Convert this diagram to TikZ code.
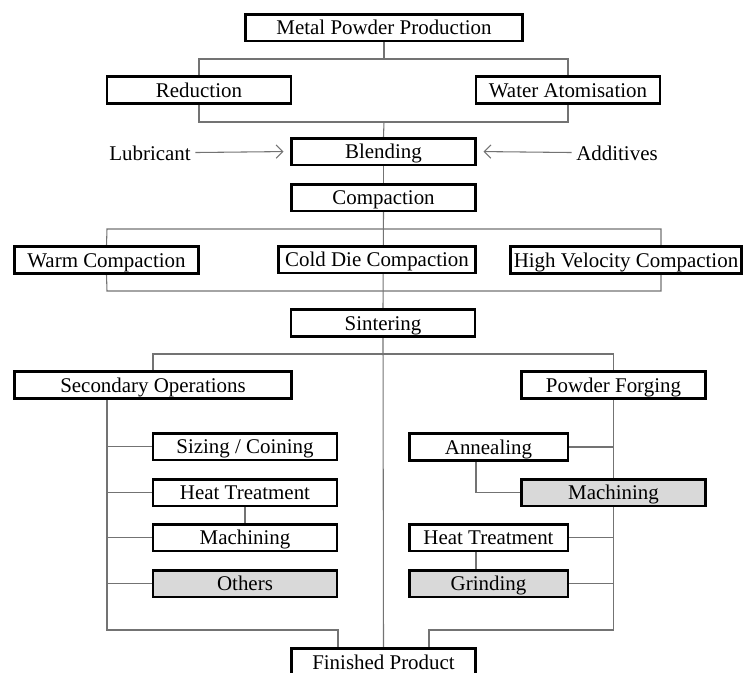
\documentclass[tikz,border=0pt]{standalone}
\usepackage{fontspec}
\setmainfont{Liberation Serif}
\usetikzlibrary{arrows.meta,calc,backgrounds}

\begin{document}
\begin{tikzpicture}[
  x=0.75pt, y=-0.75pt,
  box/.style={draw, line width=2pt, fill=white, minimum height=20pt, inner sep=0pt,
              text height=11pt, text depth=0pt,
              minimum width=138pt, font=\fontsize{15.7}{18}\selectfont},
  greybox/.style={box, fill=gray!30},
  link/.style={draw=black!55, line width=0.8pt},
  arr/.style={link, -{Straight Barb[length=5pt, width=10pt]}, shorten >=5pt},
  lbl/.style={font=\fontsize{15.7}{18}\selectfont}
]
\useasboundingbox (0,0) rectangle (746,672);
\clip (0,0) rectangle (746,672);

\node[box, minimum width=208pt] (mpp)   at (384,  27.5) {Metal Powder Production};
\node[box] (red)     at (199,  90)  {Reduction};
\node[box] (water)   at (568,  90)  {Water Atomisation};
\node[box] (blend)   at (383.5,151.5) {Blending};
\node[lbl] (lub)     at (150, 153)  {Lubricant};
\node[lbl] (add)     at (617, 153)  {Additives};
\node[box] (compact) at (383.5,197.5) {Compaction};
\node[box] (warm)    at (106.5,260) {Warm Compaction};
\node[box, minimum width=148pt] (cold) at (377, 259.5) {Cold Die Compaction};
\node[box, minimum width=173.5pt] (hvc) at (626, 260) {High Velocity Compaction};
\node[box] (sinter)  at (383, 323)  {Sintering};
\node[box, minimum width=208pt] (secop) at (153, 385) {Secondary Operations};
\node[box] (forge)   at (613.5,385) {Powder Forging};
\node[box] (sizing)  at (245, 446.5) {Sizing / Coining};
\node[box] (heatL)   at (245, 492.5) {Heat Treatment};
\node[box] (machL)   at (245, 537.5) {Machining};
\node[greybox] (others) at (245, 583.5) {Others};
\node[box, minimum width=119pt] (anneal) at (488.5,447) {Annealing};
\node[greybox] (machR) at (613.5,492.5) {Machining};
\node[box, minimum width=119pt] (heatR)  at (488.5,537.5) {Heat Treatment};
\node[greybox, minimum width=119pt] (grind) at (488.5,583.5) {Grinding};
\node[box] (finish)  at (383.5,662) {Finished Product};

% bracket corners
\coordinate (b1) at (384, 59);
\coordinate (b2) at (384, 122);
\coordinate (c1) at (107, 229);
\coordinate (c2) at (661, 229);
\coordinate (c3) at (107, 291);
\coordinate (c4) at (661, 291);
\coordinate (s1) at (383, 354);
\coordinate (lb) at (107, 630);
\coordinate (rb) at (613.5, 630);
\coordinate (fl) at (338, 630);
\coordinate (fr) at (429, 630);

\draw[arr] (lub) -- (blend.west);
\draw[arr] (add) -- (blend.east);

\begin{pgfonlayer}{background}
\draw[link] (mpp.south) -- (b1);
\draw[link] (red.north) |- (b1) -| (water.north);
\draw[link] (red.south) |- (b2) -| (water.south);
\draw[link] (b2) -- (blend.north);
\draw[link] (blend.south) -- (compact.north);
\draw[link] (compact.south) -- (sinter.north);
\draw[link] (warm.north) -- (c1) -- (c2) -- (c2 |- hvc.north);
\draw[link] (warm.south) -- (c3) -- (c4) -- (c4 |- hvc.south);
\draw[link] (secop.north) |- (s1) -| (forge.north);
\draw[link] (sinter.south) -- (finish.north);
% secondary operations
\draw[link] (secop.south -| lb) -- (lb) -- (fl) -- (fl |- finish.north);
\foreach \n in {sizing, heatL, machL, others}
  \draw[link] (\n.west) -- (\n.west -| lb);
\draw[link] (heatL.south) -- (machL.north);
% powder forging
\draw[link] (forge.south) -- (rb) -- (fr) -- (fr |- finish.north);
\foreach \n in {anneal, heatR, grind}
  \draw[link] (\n.east) -- (\n.east -| rb);
\draw[link] ($(anneal.south)+(-12.5,0)$) |- (machR.west);
\draw[link] ($(heatR.south)+(-12.5,0)$) -- ($(grind.north)+(-12.5,0)$);
\end{pgfonlayer}
\end{tikzpicture}
\end{document}
